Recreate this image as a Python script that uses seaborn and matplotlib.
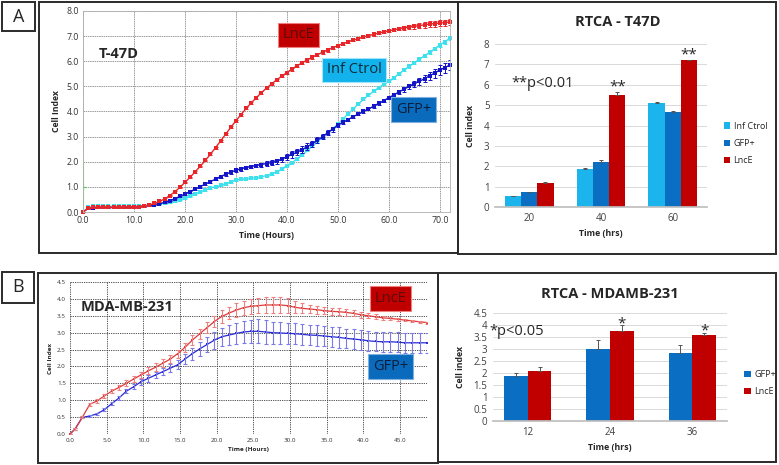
import matplotlib
matplotlib.use('Agg')
import matplotlib.pyplot as plt
import seaborn as sns
import pandas as pd
from matplotlib.patches import Rectangle
from matplotlib.ticker import FormatStrFormatter, MultipleLocator

sns.set_theme(style='white')
plt.rcParams['font.family'] = ['Open Sans', 'DejaVu Sans']

W, H = 779, 465

# ---------------- DATA ----------------
# Panel A (T-47D), hourly readings 0..72 h
hours_a = [0, 1, 2, 3, 4, 5, 6, 7, 8, 9, 10, 11, 12, 13, 14, 15, 16, 17, 18, 19,
           20, 21, 22, 23, 24, 25, 26, 27, 28, 29, 30, 31, 32, 33, 34, 35, 36, 37, 38, 39,
           40, 41, 42, 43, 44, 45, 46, 47, 48, 49, 50, 51, 52, 53, 54, 55, 56, 57, 58, 59,
           60, 61, 62, 63, 64, 65, 66, 67, 68, 69, 70, 71, 72]
lnce_a = [0.00, 0.15, 0.18, 0.19, 0.19, 0.19, 0.19, 0.19, 0.19, 0.20,
          0.20, 0.21, 0.24, 0.28, 0.34, 0.42, 0.52, 0.65, 0.80, 0.98,
          1.18, 1.38, 1.60, 1.82, 2.05, 2.30, 2.56, 2.83, 3.10, 3.37,
          3.63, 3.88, 4.12, 4.34, 4.55, 4.75, 4.93, 5.10, 5.26, 5.41,
          5.55, 5.69, 5.82, 5.94, 6.05, 6.16, 6.26, 6.36, 6.45, 6.54,
          6.62, 6.70, 6.77, 6.84, 6.90, 6.96, 7.02, 7.07, 7.12, 7.17,
          7.21, 7.25, 7.29, 7.33, 7.36, 7.39, 7.42, 7.45, 7.48, 7.50,
          7.52, 7.54, 7.56]
lnce_a_err = [0.00, 0.02, 0.03, 0.03, 0.03, 0.03, 0.03, 0.03, 0.03, 0.03,
              0.03, 0.03, 0.03, 0.03, 0.03, 0.03, 0.03, 0.03, 0.03, 0.03,
              0.03, 0.03, 0.03, 0.03, 0.03, 0.04, 0.04, 0.04, 0.04, 0.04,
              0.04, 0.04, 0.04, 0.04, 0.05, 0.05, 0.05, 0.05, 0.05, 0.05,
              0.06, 0.06, 0.06, 0.06, 0.07, 0.07, 0.07, 0.07, 0.07, 0.07,
              0.06, 0.06, 0.06, 0.05, 0.05, 0.05, 0.05, 0.05, 0.05, 0.05,
              0.05, 0.05, 0.06, 0.07, 0.08, 0.10, 0.11, 0.12, 0.12, 0.12,
              0.12, 0.12, 0.12]
gfp_a = [0.00, 0.14, 0.17, 0.18, 0.18, 0.18, 0.18, 0.18, 0.18, 0.19,
         0.19, 0.21, 0.23, 0.26, 0.29, 0.33, 0.38, 0.45, 0.53, 0.62,
         0.72, 0.81, 0.91, 1.01, 1.11, 1.21, 1.31, 1.41, 1.50, 1.59,
         1.66, 1.72, 1.77, 1.81, 1.85, 1.89, 1.93, 1.97, 2.02, 2.10,
         2.20, 2.29, 2.38, 2.48, 2.60, 2.72, 2.85, 3.00, 3.15, 3.30,
         3.45, 3.57, 3.68, 3.79, 3.90, 4.00, 4.10, 4.21, 4.32, 4.43,
         4.55, 4.66, 4.78, 4.89, 5.00, 5.10, 5.20, 5.31, 5.42, 5.53,
         5.65, 5.75, 5.85]
gfp_a_err = [0.00, 0.02, 0.03, 0.03, 0.03, 0.03, 0.03, 0.03, 0.03, 0.03,
             0.03, 0.03, 0.03, 0.03, 0.03, 0.03, 0.03, 0.03, 0.03, 0.03,
             0.04, 0.04, 0.05, 0.05, 0.05, 0.05, 0.05, 0.06, 0.06, 0.06,
             0.06, 0.07, 0.07, 0.07, 0.07, 0.08, 0.08, 0.09, 0.10, 0.10,
             0.12, 0.13, 0.13, 0.13, 0.13, 0.12, 0.12, 0.11, 0.10, 0.10,
             0.08, 0.07, 0.06, 0.06, 0.05, 0.05, 0.05, 0.06, 0.06, 0.07,
             0.07, 0.08, 0.09, 0.10, 0.11, 0.12, 0.14, 0.15, 0.17, 0.18,
             0.20, 0.20, 0.20]
inf_a = [0.00, 0.18, 0.22, 0.23, 0.23, 0.23, 0.23, 0.23, 0.23, 0.23,
         0.23, 0.24, 0.25, 0.26, 0.28, 0.31, 0.35, 0.38, 0.42, 0.48,
         0.55, 0.63, 0.72, 0.80, 0.88, 0.95, 1.01, 1.06, 1.12, 1.20,
         1.27, 1.30, 1.33, 1.35, 1.37, 1.40, 1.45, 1.52, 1.60, 1.71,
         1.85, 1.97, 2.10, 2.27, 2.45, 2.62, 2.80, 2.97, 3.15, 3.32,
         3.50, 3.70, 3.90, 4.10, 4.30, 4.48, 4.65, 4.80, 4.95, 5.08,
         5.20, 5.35, 5.50, 5.65, 5.80, 5.94, 6.08, 6.22, 6.35, 6.50,
         6.65, 6.78, 6.92]
inf_a_err = [0.00, 0.02, 0.02, 0.02, 0.02, 0.02, 0.02, 0.02, 0.02, 0.02,
             0.02, 0.02, 0.02, 0.02, 0.02, 0.02, 0.02, 0.02, 0.02, 0.02,
             0.02, 0.02, 0.02, 0.02, 0.03, 0.03, 0.03, 0.03, 0.03, 0.03,
             0.03, 0.03, 0.03, 0.03, 0.03, 0.03, 0.03, 0.03, 0.03, 0.03,
             0.03, 0.03, 0.04, 0.04, 0.04, 0.04, 0.04, 0.04, 0.04, 0.04,
             0.04, 0.04, 0.04, 0.04, 0.04, 0.04, 0.04, 0.04, 0.04, 0.04,
             0.04, 0.05, 0.05, 0.05, 0.05, 0.05, 0.06, 0.06, 0.06, 0.07,
             0.07, 0.08, 0.08]

# Panel A bars (RTCA - T47D)
bar_a_times = ['20', '40', '60']
bar_a_groups = ['Inf Ctrol', 'GFP+', 'LncE']
bar_a_inf = [0.52, 1.88, 5.10]
bar_a_gfp = [0.72, 2.22, 4.68]
bar_a_lnce = [1.18, 5.52, 7.20]
bar_a_inf_err = [0.03, 0.02, 0.03]
bar_a_gfp_err = [0.03, 0.07, 0.02]
bar_a_lnce_err = [0.05, 0.10, 0.03]

# Panel B (MDA-MB-231)
hours_b = [0.0, 0.7, 1.7, 2.7, 3.7, 4.7, 5.7, 6.7, 7.7, 8.7,
           9.7, 10.7, 11.7, 12.7, 13.7, 14.7, 15.7, 16.7, 17.7, 18.7,
           19.7, 20.7, 21.7, 22.7, 23.7, 24.7, 25.7, 26.7, 27.7, 28.7,
           29.7, 30.7, 31.7, 32.7, 33.7, 34.7, 35.7, 36.7, 37.7, 38.7,
           39.7, 40.7, 41.7, 42.7, 43.7, 44.7, 45.7, 46.7, 47.7, 48.7]
lnce_b = [0.00, 0.15, 0.50, 0.88, 0.98, 1.13, 1.27, 1.38, 1.50, 1.63,
          1.75, 1.87, 1.98, 2.10, 2.22, 2.38, 2.57, 2.78, 2.97, 3.15,
          3.33, 3.48, 3.58, 3.67, 3.74, 3.78, 3.80, 3.82, 3.82, 3.82,
          3.80, 3.75, 3.72, 3.70, 3.68, 3.65, 3.63, 3.62, 3.60, 3.57,
          3.53, 3.50, 3.47, 3.44, 3.42, 3.40, 3.37, 3.35, 3.32, 3.30]
lnce_b_err = [0.00, 0.02, 0.03, 0.05, 0.05, 0.06, 0.07, 0.08, 0.09, 0.10,
              0.10, 0.10, 0.11, 0.11, 0.12, 0.12, 0.13, 0.14, 0.15, 0.16,
              0.17, 0.18, 0.19, 0.20, 0.21, 0.22, 0.23, 0.23, 0.23, 0.23,
              0.22, 0.18, 0.15, 0.13, 0.12, 0.11, 0.10, 0.10, 0.10, 0.09,
              0.09, 0.08, 0.07, 0.06, 0.05, 0.04, 0.03, 0.03, 0.03, 0.03]
gfp_b = [0.00, 0.15, 0.50, 0.53, 0.60, 0.72, 0.90, 1.07, 1.27, 1.40,
         1.55, 1.65, 1.75, 1.85, 1.95, 2.05, 2.22, 2.38, 2.52, 2.65,
         2.78, 2.88, 2.93, 2.98, 3.02, 3.04, 3.04, 3.02, 3.00, 2.99,
         2.98, 2.97, 2.95, 2.93, 2.92, 2.90, 2.88, 2.86, 2.83, 2.81,
         2.79, 2.76, 2.74, 2.73, 2.73, 2.72, 2.70, 2.70, 2.70, 2.70]
gfp_b_err = [0.00, 0.02, 0.02, 0.02, 0.03, 0.04, 0.05, 0.06, 0.07, 0.08,
             0.09, 0.10, 0.10, 0.11, 0.12, 0.13, 0.16, 0.18, 0.20, 0.22,
             0.25, 0.27, 0.30, 0.32, 0.33, 0.34, 0.35, 0.35, 0.33, 0.32,
             0.31, 0.31, 0.31, 0.30, 0.30, 0.30, 0.30, 0.30, 0.29, 0.29,
             0.29, 0.29, 0.29, 0.29, 0.29, 0.29, 0.30, 0.30, 0.30, 0.30]

# Panel B bars (RTCA - MDAMB-231)
bar_b_times = ['12', '24', '36']
bar_b_groups = ['GFP+', 'LncE']
bar_b_gfp = [1.87, 3.00, 2.82]
bar_b_lnce = [2.10, 3.73, 3.57]
bar_b_gfp_err = [0.15, 0.38, 0.35]
bar_b_lnce_err = [0.13, 0.25, 0.10]

# ---------------- STYLE ----------------
RED_LINE = '#e8262a'
BLUE_LINE = '#1414c8'
CYAN_LINE = '#3ee0ee'
C_INF = '#1cb4ec'
C_GFP = '#0a6fc2'
C_LNCE = '#c00000'

fig = plt.figure(figsize=(W / 100, H / 100), dpi=100)


def rect(l, t, r, b):
    return [l / W, 1 - b / H, (r - l) / W, (b - t) / H]


def frame(l, t, r, b, lw=1.4):
    fig.patches.append(Rectangle((l / W, 1 - b / H), (r - l) / W, (b - t) / H,
                                 transform=fig.transFigure, fill=False,
                                 lw=lw, ec='#2b2b2b', zorder=0))


# frames
frame(2, 2, 35, 31)
fig.text(18.5 / W, 1 - 16.5 / H, 'A', ha='center', va='center', fontsize=13)
frame(39, 2, 458, 253)
frame(458, 2, 776, 254)
frame(2, 272, 34, 303)
fig.text(18 / W, 1 - 287.5 / H, 'B', ha='center', va='center', fontsize=13)
frame(38, 273, 438, 463)
frame(438, 273, 776, 462)

box_kw = dict(boxstyle='square,pad=0.32', lw=0.8)

# ---------- Panel A line chart ----------
ax1 = fig.add_axes(rect(83, 11, 450, 212))
series_a = [(inf_a, inf_a_err, CYAN_LINE), (gfp_a, gfp_a_err, BLUE_LINE),
            (lnce_a, lnce_a_err, RED_LINE)]
for vals, errs, col in series_a:
    sns.lineplot(x=hours_a, y=vals, ax=ax1, color=col, lw=1.0, marker='s',
                 markersize=2.6, markeredgewidth=0, errorbar=None, clip_on=False)
    ax1.errorbar(hours_a, vals, yerr=errs, fmt='none', ecolor=col, elinewidth=0.7,
                 capsize=1.5, capthick=0.7)
ax1.plot([0, 0], [0, 2.0], color='#66dd66', lw=0.8)
ax1.plot([0], [1.0], marker='+', color='#44cc44', ms=4, mew=0.8)
ax1.set_xlim(0, 72)
ax1.set_ylim(0, 8)
ax1.xaxis.set_major_locator(MultipleLocator(10))
ax1.yaxis.set_major_locator(MultipleLocator(1))
ax1.xaxis.set_major_formatter(FormatStrFormatter('%.1f'))
ax1.yaxis.set_major_formatter(FormatStrFormatter('%.1f'))
ax1.grid(True, color='#9a9a9a', lw=0.7, ls=(0, (1.5, 0.8)))
ax1.tick_params(labelsize=6.3, colors='#333333', length=0, pad=3)
for s in ax1.spines.values():
    s.set_color('#b0b0b0')
    s.set_linewidth(0.6)
ax1.set_xlabel('Time (Hours)', fontsize=6.2, fontweight='bold', labelpad=4)
ax1.set_ylabel('Cell Index', fontsize=6.2, fontweight='bold', labelpad=4)
ax1.text(3.0, 6.3, 'T-47D', fontsize=10.5, fontweight='bold', ha='left', va='center')
ax1.text(42.2, 7.05, 'LncE', fontsize=10.5, ha='center', va='center', color='#5a0a0a',
         bbox=dict(fc=C_LNCE, ec='#f08080', **box_kw))
ax1.text(53.2, 5.66, 'Inf Ctrol', fontsize=10.5, ha='center', va='center', color='#0b2c3a',
         bbox=dict(fc='#12b2ec', ec='#a0e6fa', **box_kw))
ax1.text(64.8, 4.08, 'GFP+', fontsize=10.5, ha='center', va='center', color='#0a1e3c',
         bbox=dict(fc='#0a6bbd', ec='#80b0e0', **box_kw))

# ---------- Panel A bar chart ----------
ax2 = fig.add_axes(rect(495, 44, 707, 207))
df_a = pd.DataFrame({
    'time': bar_a_times * 3,
    'group': [g for g in bar_a_groups for _ in bar_a_times],
    'value': bar_a_inf + bar_a_gfp + bar_a_lnce,
})
errs_a = [bar_a_inf_err, bar_a_gfp_err, bar_a_lnce_err]
sns.barplot(data=df_a, x='time', y='value', hue='group', hue_order=bar_a_groups,
            palette=[C_INF, C_GFP, C_LNCE], saturation=1, width=0.68,
            errorbar=None, ax=ax2, zorder=2, linewidth=0)
for cont, ee in zip(ax2.containers, errs_a):
    xs = [p.get_x() + p.get_width() / 2 for p in cont.patches]
    ys = [p.get_height() for p in cont.patches]
    ax2.errorbar(xs, ys, yerr=[[0] * len(ee), ee], fmt='none', ecolor='#555555',
                 elinewidth=0.7, capsize=1.5, capthick=0.7, zorder=3)
ax2.set_ylim(0, 8)
ax2.yaxis.set_major_locator(MultipleLocator(1))
ax2.grid(True, axis='y', color='#d9d9d9', lw=0.7)
ax2.set_axisbelow(True)
sns.despine(ax=ax2, left=True)
ax2.spines['bottom'].set_color('#bfbfbf')
ax2.tick_params(labelsize=7, colors='#404040', length=0, pad=4)
ax2.set_xlabel('Time (hrs)', fontsize=6.3, fontweight='bold', labelpad=4)
ax2.set_ylabel('Cell index', fontsize=6.3, fontweight='bold', labelpad=6)
ax2.set_title('RTCA - T47D', fontsize=10.5, fontweight='bold', pad=13, x=0.58)
ax2.legend(loc='center left', bbox_to_anchor=(1.04, 0.39), frameon=False, fontsize=6.5,
           handlelength=0.7, handleheight=0.7, handletextpad=0.4, labelspacing=0.9)
ax2.text(-0.24, 6.05, '**p<0.01', fontsize=10.5, ha='left', va='center')
lnce_cont_a = ax2.containers[2]
for i in [1, 2]:
    p = lnce_cont_a.patches[i]
    ax2.text(p.get_x() + p.get_width() / 2, bar_a_lnce[i] + bar_a_lnce_err[i] - 0.12,
             '**', fontsize=11, ha='center', va='bottom')

# ---------- Panel B line chart ----------
ax3 = fig.add_axes(rect(70, 282, 427, 434))
series_b = [(gfp_b, gfp_b_err, '#2a2ad6', '#7a7ae8'), (lnce_b, lnce_b_err, '#e03a3a', '#ee8080')]
for vals, errs, col, ecol in series_b:
    sns.lineplot(x=hours_b, y=vals, ax=ax3, color=col, lw=0.9, marker='s',
                 markersize=2.0, markeredgewidth=0, errorbar=None, clip_on=False)
    ax3.errorbar(hours_b, vals, yerr=errs, fmt='none', ecolor=ecol, elinewidth=0.8,
                 capsize=1.6, capthick=0.8)
ax3.set_xlim(0, 48.7)
ax3.set_ylim(0, 4.5)
ax3.xaxis.set_major_locator(MultipleLocator(5))
ax3.yaxis.set_major_locator(MultipleLocator(0.5))
ax3.xaxis.set_major_formatter(FormatStrFormatter('%.1f'))
ax3.yaxis.set_major_formatter(FormatStrFormatter('%.1f'))
ax3.grid(True, color='#3a3a3a', lw=0.6, ls=(0, (1.5, 1.2)))
ax3.tick_params(labelsize=4.5, colors='#333333', length=0, pad=3)
for s in ax3.spines.values():
    s.set_visible(False)
ax3.set_xlabel('Time (Hours)', fontsize=4.6, fontweight='bold', labelpad=3)
ax3.set_ylabel('Cell Index', fontsize=4.6, fontweight='bold', labelpad=3)
ax3.text(1.4, 3.75, 'MDA-MB-231', fontsize=10.5, fontweight='bold', ha='left', va='center')
ax3.text(43.7, 4.01, 'LncE', fontsize=10.5, ha='center', va='center', color='#5a0a0a',
         bbox=dict(fc=C_LNCE, ec='#f08080', **box_kw))
ax3.text(43.7, 2.0, 'GFP+', fontsize=10.5, ha='center', va='center', color='#0a1e3c',
         bbox=dict(fc='#0a6bbd', ec='#80b0e0', **box_kw))

# ---------- Panel B bar chart ----------
ax4 = fig.add_axes(rect(493, 313, 727, 421))
df_b = pd.DataFrame({
    'time': bar_b_times * 2,
    'group': [g for g in bar_b_groups for _ in bar_b_times],
    'value': bar_b_gfp + bar_b_lnce,
})
errs_b = [bar_b_gfp_err, bar_b_lnce_err]
sns.barplot(data=df_b, x='time', y='value', hue='group', hue_order=bar_b_groups,
            palette=[C_GFP, C_LNCE], saturation=1, width=0.58,
            errorbar=None, ax=ax4, zorder=2, linewidth=0)
for cont, ee in zip(ax4.containers, errs_b):
    xs = [p.get_x() + p.get_width() / 2 for p in cont.patches]
    ys = [p.get_height() for p in cont.patches]
    ax4.errorbar(xs, ys, yerr=[[0] * len(ee), ee], fmt='none', ecolor='#555555',
                 elinewidth=0.7, capsize=1.5, capthick=0.7, zorder=3)
ax4.set_ylim(0, 4.5)
ax4.yaxis.set_major_locator(MultipleLocator(0.5))
ax4.yaxis.set_major_formatter(plt.FuncFormatter(lambda v, _: ('%g' % v)))
ax4.grid(True, axis='y', color='#d9d9d9', lw=0.7)
ax4.set_axisbelow(True)
sns.despine(ax=ax4, left=True)
ax4.spines['bottom'].set_color('#bfbfbf')
ax4.tick_params(labelsize=7, colors='#404040', length=0, pad=4)
ax4.set_xlabel('Time (hrs)', fontsize=6.3, fontweight='bold', labelpad=4)
ax4.set_ylabel('Cell index', fontsize=6.3, fontweight='bold', labelpad=6)
ax4.set_title('RTCA - MDAMB-231', fontsize=10.5, fontweight='bold', pad=11)
ax4.legend(loc='center left', bbox_to_anchor=(1.04, 0.35), frameon=False, fontsize=6.5,
           handlelength=0.7, handleheight=0.7, handletextpad=0.4, labelspacing=0.9)
ax4.text(-0.46, 3.75, '*p<0.05', fontsize=10.5, ha='left', va='center')
lnce_cont_b = ax4.containers[1]
for i in [1, 2]:
    p = lnce_cont_b.patches[i]
    ax4.text(p.get_x() + p.get_width() / 2, bar_b_lnce[i] + bar_b_lnce_err[i] - 0.25,
             '*', fontsize=11, ha='center', va='bottom')

fig.savefig('out.png', dpi=100)
